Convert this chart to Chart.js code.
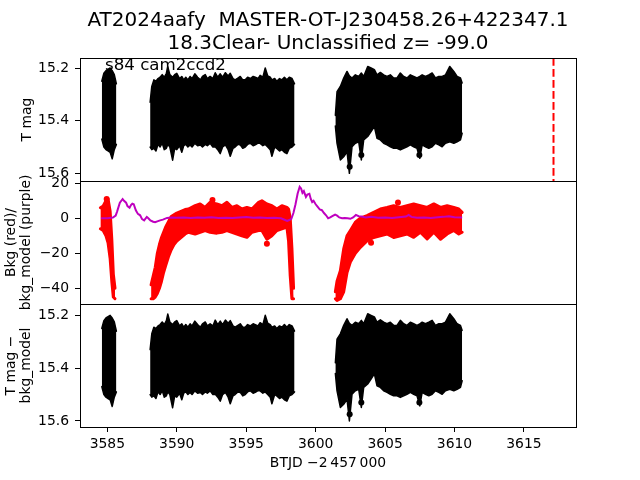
<!DOCTYPE html>
<html><head><meta charset="utf-8">
<script src="https://cdn.jsdelivr.net/npm/chart.js@4.4.0/dist/chart.umd.min.js"></script>
<style>
html,body{margin:0;padding:0;background:#fff;width:640px;height:480px;overflow:hidden;position:relative}
canvas{position:absolute;left:0}
</style></head><body>
<canvas id="c1" width="640" height="190" style="top:0px"></canvas>
<canvas id="c2" width="640" height="138" style="top:171px"></canvas>
<canvas id="c3" width="640" height="186" style="top:294px"></canvas>
<script>
// ---------- data ----------
const titleLines = ['AT2024aafy  MASTER-OT-J230458.26+422347.1', '18.3Clear- Unclassified z= -99.0'];
const sectorLabel = 's84 cam2ccd2';
const xTicks = [3585, 3590, 3595, 3600, 3605, 3610, 3615];
const magTicks = [15.2, 15.4, 15.6];
const bkgTicks = [20, 0, -20, -40];
const eventTime = 3617.13;

// T mag envelope (upper = brightest, lower = faintest), null = gap
const tmagTime = [3584.6, 3584.75, 3584.9, 3585.05, 3585.2, 3585.35, 3585.5, 3585.65, null,
 3588.08, 3588.2, 3588.35, 3588.5, 3588.65, 3588.8, 3588.95, 3589.1, 3589.25, 3589.35, 3589.5, 3589.7, 3589.85, 3590.0, 3590.2, 3590.36, 3590.5, 3590.65, 3590.8, 3590.96, 3591.1, 3591.3, 3591.5, 3591.7, 3591.85, 3592.05, 3592.2, 3592.4, 3592.6, 3592.77, 3592.95, 3593.13, 3593.3, 3593.5, 3593.7, 3593.85, 3594.05, 3594.2, 3594.4, 3594.57, 3594.75, 3594.93, 3595.1, 3595.3, 3595.5, 3595.65, 3595.85, 3596.0, 3596.2, 3596.37, 3596.55, 3596.73, 3596.85, 3597.05, 3597.2, 3597.4, 3597.57, 3597.75, 3597.93, 3598.1, 3598.3, 3598.48, null,
 3601.42, 3601.54, 3601.78, 3602.02, 3602.26, 3602.43, 3602.62, 3602.86, 3603.1, 3603.29, 3603.46, 3603.75, 3603.99, 3604.23, 3604.42, 3604.66, 3604.9, 3605.14, 3605.38, 3605.62, 3605.86, 3606.1, 3606.34, 3606.58, 3606.82, 3607.06, 3607.3, 3607.5, 3607.67, 3607.91, 3608.15, 3608.39, 3608.63, 3608.87, 3609.11, 3609.35, 3609.66, 3609.95, 3610.19, 3610.43, 3610.55];
const tmagUpper = [15.25, 15.22, 15.21, 15.205, 15.2, 15.21, 15.225, 15.26, null,
 15.33, 15.27, 15.245, 15.25, 15.24, 15.235, 15.225, 15.235, 15.22, 15.195, 15.225, 15.235, 15.225, 15.22, 15.24, 15.232, 15.245, 15.235, 15.245, 15.232, 15.24, 15.222, 15.235, 15.245, 15.232, 15.225, 15.24, 15.232, 15.24, 15.218, 15.235, 15.222, 15.235, 15.218, 15.23, 15.22, 15.24, 15.245, 15.238, 15.232, 15.245, 15.245, 15.235, 15.24, 15.232, 15.235, 15.24, 15.228, 15.235, 15.2, 15.23, 15.235, 15.245, 15.24, 15.25, 15.24, 15.245, 15.235, 15.245, 15.235, 15.24, 15.26, null,
 15.38, 15.29, 15.27, 15.238, 15.213, 15.23, 15.238, 15.226, 15.232, 15.219, 15.232, 15.194, 15.2, 15.206, 15.226, 15.217, 15.226, 15.232, 15.226, 15.238, 15.238, 15.219, 15.232, 15.238, 15.226, 15.232, 15.238, 15.232, 15.226, 15.232, 15.226, 15.219, 15.238, 15.232, 15.232, 15.226, 15.194, 15.213, 15.232, 15.238, 15.257];
const tmagLower = [15.47, 15.5, 15.51, 15.515, 15.52, 15.545, 15.51, 15.49, null,
 15.5, 15.51, 15.505, 15.515, 15.49, 15.5, 15.485, 15.51, 15.505, 15.49, 15.5, 15.55, 15.505, 15.51, 15.495, 15.52, 15.495, 15.49, 15.5, 15.492, 15.5, 15.486, 15.495, 15.492, 15.5, 15.49, 15.495, 15.486, 15.5, 15.499, 15.51, 15.525, 15.5, 15.492, 15.51, 15.535, 15.505, 15.5, 15.49, 15.492, 15.505, 15.5, 15.49, 15.486, 15.495, 15.492, 15.485, 15.486, 15.495, 15.49, 15.5, 15.51, 15.535, 15.5, 15.505, 15.515, 15.51, 15.52, 15.525, 15.505, 15.5, 15.49, null,
 15.42, 15.486, 15.549, 15.537, 15.518, 15.6, 15.499, 15.486, 15.48, 15.549, 15.473, 15.46, 15.441, 15.422, 15.467, 15.473, 15.486, 15.492, 15.499, 15.505, 15.505, 15.511, 15.505, 15.499, 15.492, 15.499, 15.505, 15.543, 15.492, 15.499, 15.505, 15.499, 15.486, 15.492, 15.499, 15.486, 15.48, 15.486, 15.48, 15.473, 15.448];
const tmagOutTime = [3602.45, 3603.29, 3607.47];
const tmagOutMag = [15.575, 15.53, 15.53];

// background (red) envelope
const bkgTime = [3584.5, 3584.7, 3584.9, 3585.05, 3585.2, 3585.32, 3585.43, 3585.55, null,
 3588.15, 3588.3, 3588.45, 3588.6, 3588.75, 3588.9, 3589.05, 3589.2, 3589.4, 3589.6, 3589.8, 3590.0, 3590.3, 3590.6, 3590.84, 3591.32, 3591.68, 3592.04, 3592.4, 3592.88, 3593.25, 3593.61, 3593.97, 3594.33, 3594.69, 3595.05, 3595.41, 3595.89, 3596.13, 3596.49, 3596.85, 3597.21, 3597.57, 3597.93, 3598.05, 3598.17, 3598.29, 3598.41, null,
 3601.42, 3601.54, 3601.78, 3602.02, 3602.26, 3602.5, 3602.86, 3603.22, 3603.7, 3604.18, 3604.66, 3605.14, 3605.62, 3606.1, 3606.58, 3607.06, 3607.54, 3608.03, 3608.51, 3608.99, 3609.47, 3609.95, 3610.31, 3610.55];
const bkgUpper = [6, 7, 10, 11, 4, -12, -32, -40, null,
 -38, -33, -28, -20, -15, -11, -8, -5, -2, 1, 2, 3, 4, 5, 5.3, 7.2, 8.2, 6.2, 9.1, 8.2, 7.2, 9.1, 6.2, 7.2, 5.3, 6.2, 5.3, 9.1, 10, 8.2, 7.2, 5.3, 7.2, 6.2, 5.3, 0, -17, -40, null,
 -42, -36, -30, -17.5, -10, -7, -2.3, 0, 1.5, 3.4, 5.3, 6.2, 7.2, 6.2, 7.2, 8.2, 7.2, 6.2, 8.2, 6.2, 7.2, 6.2, 5.3, 3.4];
const bkgLower = [-6, -7, -10, -14, -23, -36, -45, -46, null,
 -46, -46, -45, -43, -40, -36, -31, -27, -22, -18, -15, -13, -11, -9, -8, -9, -8, -7, -8, -8.5, -8, -7, -8, -9, -10, -10.9, -8, -7, -7, -12, -10, -7, -6, -5, -13, -33, -46, -46, null,
 -46, -47, -46, -42, -31, -25, -20, -16.6, -13, -11, -10, -9, -11, -10, -9, -10.9, -8, -11.8, -8, -12, -9, -7, -9, -8];
const bkgOutTime = [3584.95, 3592.57, 3596.49, 3603.99, 3605.93];
const bkgOutValue = [11, 10.5, -14.5, -14, 9];

// background model (purple)
const modelTime = [3584.55, 3585.0, 3585.4, 3585.6, 3585.7, 3585.9, 3586.1, 3586.2, 3586.35, 3586.45, 3586.6, 3586.7, 3586.8, 3586.9, 3587.05, 3587.2, 3587.36, 3587.5, 3587.65, 3587.84, 3587.95, 3588.1, 3588.3, 3588.44, 3588.6, 3588.8, 3589.0, 3589.3, 3589.6, 3590.0, 3590.5, 3591.0, 3591.5, 3592.0, 3592.5, 3593.0, 3593.5, 3594.0, 3594.5, 3595.0, 3595.5, 3596.0, 3596.5, 3597.0, 3597.5, 3597.8, 3597.95, 3598.1, 3598.25, 3598.4, 3598.55, 3598.7, 3598.85, 3598.95, 3599.05, 3599.15, 3599.3, 3599.4, 3599.55, 3599.65, 3599.75, 3599.85, 3600.0, 3600.15, 3600.3, 3600.45, 3600.6, 3600.75, 3600.9, 3601.05, 3601.2, 3601.4, 3601.55, 3601.7, 3601.9, 3602.1, 3602.3, 3602.5, 3602.7, 3602.9, 3603.1, 3603.3, 3603.6, 3604.0, 3604.5, 3605.0, 3605.5, 3606.0, 3606.5, 3606.7, 3606.9, 3607.3, 3607.8, 3608.3, 3608.8, 3609.2, 3609.6, 3610.0, 3610.55];
const modelValue = [0, 0, 0.4, 1.5, 3.8, 8.9, 11, 10, 8.9, 7, 6, 7.5, 8.3, 8, 4.6, 2.5, 1.7, -0.5, -1.2, 0.8, 0, -1.2, -2, -2.3, -1.8, -1.2, -0.8, 0.2, 0.5, 0.3, 0.5, 0.2, 0.4, 0.3, 0.6, 0.2, 0.3, 0.1, 0.4, 0.7, 0.3, 0.5, 0.2, 0.3, 0, -1, -1.5, -1, -0.3, 3, 8, 14, 18, 17, 14.5, 15.5, 12.2, 13.5, 14, 11, 9.3, 10, 8, 6.5, 5, 4.6, 3, 1.7, 0, 0.5, 1.2, 2.1, 1.5, 0.5, 0, 0.2, 0, -0.3, 0.5, 1.9, 1.2, 1, 0.5, 0.8, 0.3, 0.5, 0.2, 0.6, 1, 1.9, 0.8, 0.3, 0.5, 0.2, 0.6, 0.8, 1.2, 0.6, 0.4];

// ---------- helpers ----------
const X_MIN = 3583.03, X_MAX = 3618.75;
const FS = 13.9;
Chart.defaults.font.family = "'DejaVu Sans'";
Chart.defaults.font.size = FS;
Chart.defaults.color = '#000';
Chart.defaults.animation = false;

const minus = v => (v < 0 ? '\u2212' : '') + Math.abs(v);

function bandDatasets(t, up, lo, color, bw) {
  const segs = [];
  let cur = null;
  t.forEach((x, i) => {
    if (x === null) { cur = null; return; }
    if (!cur) { cur = {u: [], l: []}; segs.push(cur); }
    cur.u.push({x: x, y: up[i]});
    cur.l.push({x: x, y: lo[i]});
  });
  const ds = [];
  segs.forEach(s => {
    const common = {type: 'line', borderColor: color, backgroundColor: color, borderWidth: bw,
      pointRadius: 0, tension: 0, borderJoinStyle: 'round', borderCapStyle: 'round'};
    ds.push(Object.assign({data: s.u, fill: '+1'}, common));
    ds.push(Object.assign({data: s.l, fill: false}, common));
  });
  return ds;
}
function dots(t, v, color) {
  return {type: 'line', showLine: false, data: t.map((x, i) => ({x: x, y: v[i]})),
    pointRadius: 3, pointBackgroundColor: color, pointBorderColor: color, borderColor: color, pointBorderWidth: 0};
}

function yAxis(min, max, ticks, title, reverse, titlePad, lh) {
  return {
    type: 'linear', position: 'left', min: min, max: max, reverse: reverse,
    afterBuildTicks: s => { s.ticks = ticks.map(v => ({value: v})); },
    afterFit: s => { s.width = 80; s.paddingTop = 0; s.paddingBottom = 0; },
    grid: {drawOnChartArea: false, drawTicks: true, tickLength: 5, color: '#000'},
    border: {display: true, color: '#000'},
    ticks: {padding: 6, color: '#000', font: {size: FS}, callback: v => minus(v)},
    title: {display: true, text: title, color: '#000', font: {size: FS, lineHeight: lh}, padding: {top: titlePad, bottom: 0}}
  };
}
function xHidden() {
  return {type: 'linear', min: X_MIN, max: X_MAX, display: false};
}
const framePlugin = {
  id: 'frame',
  afterDraw(chart) {
    const {ctx, chartArea: a} = chart;
    ctx.save();
    ctx.strokeStyle = '#000'; ctx.lineWidth = 1;
    const l = Math.round(a.left), t = Math.round(a.top), r = Math.round(a.right), b = Math.round(a.bottom);
    ctx.strokeRect(l + 0.5, t + 0.5, r - l, b - t);
    ctx.restore();
  }
};
const basePlugins = {legend: {display: false}, tooltip: {enabled: false}};

// ---------- panel 1 ----------
const topExtras = {
  id: 'topExtras',
  afterDatasetsDraw(chart) {
    const {ctx, chartArea: a} = chart;
    const x = chart.scales.x.getPixelForValue(eventTime);
    ctx.save();
    ctx.strokeStyle = '#ff0000'; ctx.lineWidth = 2; ctx.setLineDash([7.7, 3.3]);
    ctx.beginPath(); ctx.moveTo(x, a.top); ctx.lineTo(x, a.bottom); ctx.stroke();
    ctx.restore();
    ctx.save();
    ctx.fillStyle = '#000'; ctx.font = "16.67px 'DejaVu Sans'"; ctx.textBaseline = 'alphabetic';
    ctx.fillText(sectorLabel, a.left + 25, a.top + 12);
    ctx.restore();
  }
};
new Chart(document.getElementById('c1'), {
  data: {datasets: [dots(tmagOutTime, tmagOutMag, '#000')].concat(bandDatasets(tmagTime, tmagUpper, tmagLower, '#000', 1.5))},
  options: {
    responsive: false, animation: false,
    layout: {padding: {left: 0, right: 64, top: 0, bottom: 9}},
    plugins: Object.assign({
      title: {display: true, text: titleLines, fullSize: false, color: '#000',
        font: {size: 20, weight: 'normal', lineHeight: 1.15}, padding: {top: 9.5, bottom: 2.5}}
    }, basePlugins),
    scales: {x: xHidden(), y: yAxis(15.162, 15.629, magTicks, 'T mag', true, 18.7, 1.2)}
  },
  plugins: [framePlugin, topExtras]
});

// ---------- panel 2 ----------
const bkgDs = bandDatasets(bkgTime, bkgUpper, bkgLower, '#ff0000', 3);
const modelDs = {type: 'line', data: modelTime.map((x, i) => ({x: x, y: modelValue[i]})), borderColor: '#bf00bf',
  borderWidth: 2, pointRadius: 0, tension: 0, fill: false, order: -1};
new Chart(document.getElementById('c2'), {
  data: {datasets: [modelDs, dots(bkgOutTime, bkgOutValue, '#ff0000')].concat(bkgDs)},
  options: {
    responsive: false, animation: false,
    layout: {padding: {left: 0, right: 64, top: 10, bottom: 5}},
    plugins: basePlugins,
    scales: {x: xHidden(), y: yAxis(-49.0, 21.3, bkgTicks, ['Bkg (red)/', 'bkg_model (purple)'], false, 3.5, 15 / FS)}
  },
  plugins: [framePlugin]
});

// ---------- panel 3 ----------
new Chart(document.getElementById('c3'), {
  data: {datasets: [dots(tmagOutTime, tmagOutMag, '#000')].concat(bandDatasets(tmagTime, tmagUpper, tmagLower, '#000', 1.5))},
  options: {
    responsive: false, animation: false,
    layout: {padding: {left: 0, right: 64, top: 10, bottom: 0}},
    plugins: basePlugins,
    scales: {
      x: {
        type: 'linear', position: 'bottom', min: X_MIN, max: X_MAX,
        afterBuildTicks: s => { s.ticks = xTicks.map(v => ({value: v})); },
        afterFit: s => { s.height = 53; s.paddingLeft = 0; s.paddingRight = 0; },
        grid: {drawOnChartArea: false, drawTicks: true, tickLength: 5, color: '#000'},
        border: {display: true, color: '#000'},
        ticks: {padding: 4, maxRotation: 0, autoSkip: false, color: '#000', font: {size: FS}, callback: v => String(v)},
        title: {display: true, text: 'BTJD \u22122\u2009457\u2009000', color: '#000', font: {size: FS}, padding: {top: 0, bottom: 8}}
      },
      y: yAxis(15.157, 15.623, magTicks, ['T mag \u2212', 'bkg_model'], true, 3.5, 15 / FS)
    }
  },
  plugins: [framePlugin]
});
</script>
</body></html>
